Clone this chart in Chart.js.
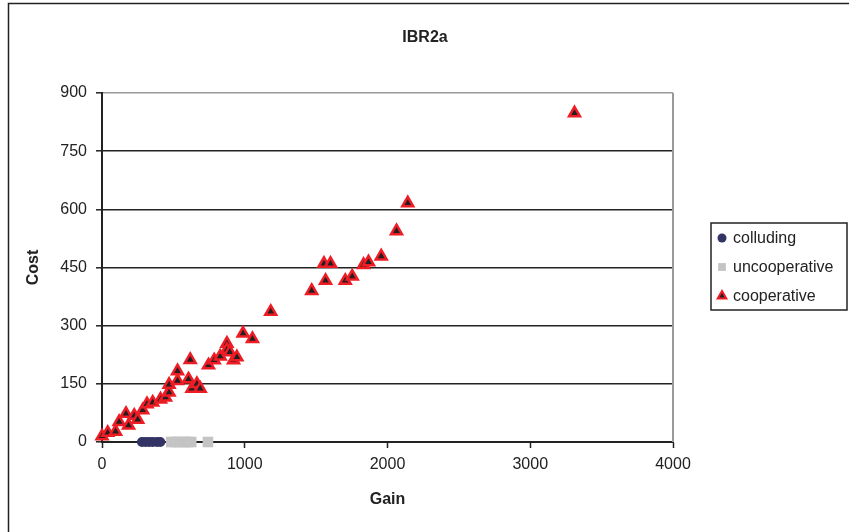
<!DOCTYPE html>
<html><head><meta charset="utf-8">
<script src="https://cdn.jsdelivr.net/npm/chart.js@4.4.1/dist/chart.umd.min.js"></script>
<style>html,body{margin:0;padding:0;background:#fff}canvas{display:block}</style>
</head><body>
<canvas id="c" width="849" height="532"></canvas>
<script>
// ---- text ----
const chartTitle = 'IBR2a';
const xAxisTitle = 'Gain';
const yAxisTitle = 'Cost';
const seriesNames = ['colluding', 'uncooperative', 'cooperative'];

// ---- tick labels ----
const xTicks = [0, 1000, 2000, 3000, 4000];
const yTicks = [0, 150, 300, 450, 600, 750, 900];

// ---- series values (gain, cost) ----
const colludingGain = [280, 305, 330, 355, 385, 408];
const colludingCost = [0, 0, 0, 0, 0, 0];

const uncooperativeGain = [485, 515, 545, 575, 600, 625, 742];
const uncooperativeCost = [0, 0, 0, 0, 0, 0, 0];

const cooperativeGain = [0, 40, 95, 120, 168, 186, 226, 250, 285, 315, 355, 410, 445, 470, 470,
  529, 529, 606, 618, 630, 665, 688, 746, 786, 828, 875, 875, 895, 921, 945, 988, 1054, 1182,
  1469, 1555, 1566, 1601, 1704, 1753, 1832, 1867, 1956, 2063, 2142, 3310];
const cooperativeCost = [15, 24, 27, 52, 73, 43, 68, 58, 82, 98, 102, 110, 115, 128, 148,
  158, 183, 162, 212, 138, 150, 138, 198, 211, 221, 254, 238, 232, 211, 219, 280, 266, 336,
  390, 460, 416, 460, 416, 427, 457, 464, 479, 544, 616, 848];

function pts(xs, ys) { return xs.map((x, i) => ({ x: x, y: ys[i] })); }

const FONT = "'Liberation Sans', Arial, sans-serif";
Chart.defaults.font.family = FONT;
Chart.defaults.color = '#222';

const frameAndText = {
  id: 'frameAndText',
  beforeDraw(chart) {
    const ctx = chart.ctx;
    ctx.save();
    ctx.fillStyle = '#fff';
    ctx.fillRect(0, 0, chart.width, chart.height);
    ctx.strokeStyle = '#222';
    ctx.lineWidth = 1.5;
    ctx.strokeRect(8.5, 3.5, chart.width + 20, chart.height + 20);
    ctx.restore();
  },
  afterDraw(chart) {
    const ctx = chart.ctx;
    const a = chart.chartArea;
    ctx.save();
    ctx.fillStyle = '#222';
    ctx.font = "bold 16px " + FONT;
    ctx.textAlign = 'center';
    ctx.textBaseline = 'middle';
    ctx.fillText(chartTitle, 425, 38);
    // legend box
    const bx = 711, by = 223, bw = 136, bh = 87;
    ctx.strokeStyle = '#222';
    ctx.lineWidth = 1.5;
    ctx.strokeRect(bx, by, bw, bh);
    const rows = [238, 267, 296];
    const legendRadius = [4.5, 5.5, 5];
    ctx.font = "16px " + FONT;
    ctx.textAlign = 'left';
    chart.data.datasets.forEach((ds, i) => {
      ctx.fillStyle = ds.backgroundColor;
      ctx.strokeStyle = ds.borderColor;
      ctx.lineWidth = Math.min(ds.borderWidth, 2);
      Chart.helpers.drawPoint(ctx, { pointStyle: ds.pointStyle, radius: legendRadius[i], borderWidth: ds.borderWidth, rotation: 0 }, 722, rows[i]);
      ctx.fillStyle = '#222';
      ctx.fillText(ds.label, 733, rows[i] + 1);
    });
    ctx.restore();
  },
  beforeDatasetsDraw(chart) {
    const ctx = chart.ctx;
    const a = chart.chartArea;
    ctx.save();
    ctx.strokeStyle = '#999';
    ctx.lineWidth = 2;
    ctx.beginPath();
    ctx.moveTo(a.right, a.top);
    ctx.lineTo(a.right, a.bottom);
    ctx.stroke();
    ctx.restore();
  }
};

new Chart(document.getElementById('c'), {
  type: 'scatter',
  data: {
    datasets: [
      { label: seriesNames[0], data: pts(colludingGain, colludingCost), pointStyle: 'circle', clip: false,
        pointRadius: 5, backgroundColor: '#333366', borderColor: '#333366', borderWidth: 0, order: 2 },
      { label: seriesNames[1], data: pts(uncooperativeGain, uncooperativeCost), pointStyle: 'rect', clip: false,
        pointRadius: 7.5, backgroundColor: '#c4c4c4', borderColor: '#c4c4c4', borderWidth: 0, order: 1 },
      { label: seriesNames[2], data: pts(cooperativeGain, cooperativeCost), pointStyle: 'triangle', clip: false,
        pointRadius: 6.3, backgroundColor: '#231f20', borderColor: '#ee1c25', borderWidth: 2.5, order: 0 }
    ]
  },
  options: {
    responsive: false,
    devicePixelRatio: 1,
    animation: false,
    events: [],
    layout: { padding: { left: 0, top: 93, right: 176, bottom: 0 } },
    plugins: { legend: { display: false }, tooltip: { enabled: false }, title: { display: false } },
    scales: {
      x: {
        type: 'linear', min: xTicks[0], max: xTicks[xTicks.length - 1],
        afterBuildTicks: s => { s.ticks = xTicks.map(v => ({ value: v })); },
        afterFit: s => { s.height = 90; },
        grid: { drawOnChartArea: false, drawTicks: true, tickLength: 6, tickColor: '#222', tickWidth: 1.5 },
        border: { display: true, color: '#222', width: 2 },
        ticks: { padding: 7, font: { size: 16 }, color: '#222', maxRotation: 0, callback: v => String(v) },
        title: { display: true, text: xAxisTitle, font: { size: 16, weight: 'bold' }, color: '#222', padding: { top: 0, bottom: 23 } }
      },
      y: {
        type: 'linear', min: yTicks[0], max: yTicks[yTicks.length - 1],
        afterBuildTicks: s => { s.ticks = yTicks.map(v => ({ value: v })); },
        afterFit: s => { s.width = 102; },
        grid: { drawOnChartArea: true, drawTicks: true, tickLength: 6,
          color: c => (c.tick && c.tick.value === yTicks[yTicks.length - 1]) ? '#999' : '#222',
          lineWidth: 1.6, tickColor: '#222', tickWidth: 1.5 },
        border: { display: true, color: '#222', width: 2 },
        ticks: { padding: 9, font: { size: 16 }, color: '#222', callback: v => String(v) },
        title: { display: true, text: yAxisTitle, font: { size: 16, weight: 'bold' }, color: '#222', padding: { top: 24, bottom: 0 } }
      }
    }
  },
  plugins: [frameAndText]
});
</script>
</body></html>
